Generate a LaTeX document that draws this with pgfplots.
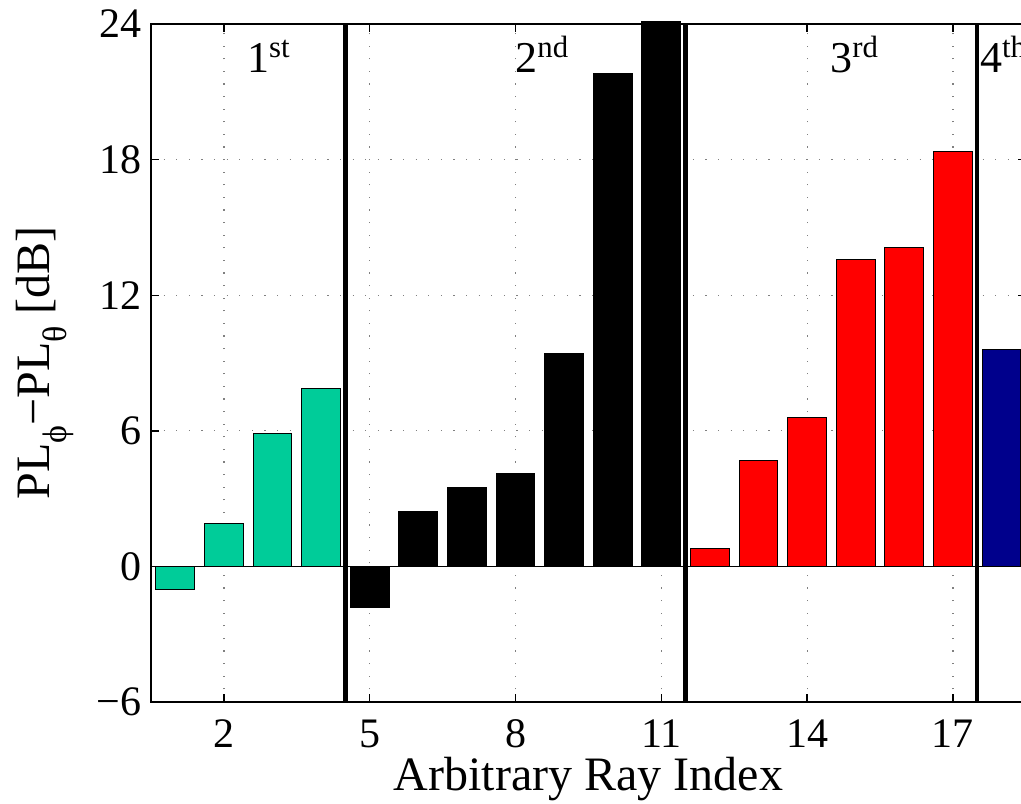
\documentclass[border=0pt]{standalone}
\usepackage{fontspec}
\setmainfont{Liberation Serif}
\usepackage{pgfplots}
\pgfplotsset{compat=1.18}
\definecolor{tealbar}{RGB}{0,204,153}
\definecolor{navybar}{RGB}{0,0,140}
\newcommand{\lowsub}[1]{\raisebox{-0.35em}{\fontsize{17}{20}\selectfont #1}}
\begin{document}
\begin{tikzpicture}
\begin{axis}[
  scale only axis, width=437.4pt, height=339pt,
  xmin=0.5, xmax=18.5, ymin=-6, ymax=24,
  xtick={2,5,8,11,14,17}, ytick={-6,0,6,12,18,24},
  xticklabels={2,5,8,11,14,17},
  yticklabels={−6,0,6,12,18,24},
  tick align=inside, major tick length=4pt,
  axis line style={line width=0.7pt},
  every tick/.style={black, line width=0.7pt},
  grid=major,
  major grid style={gray, line width=0.6pt, dash pattern=on 0.6pt off 5.7pt},
  clip=false,
  xticklabel style={font=\fontsize{21}{25}\selectfont, anchor=base, yshift=-22.5pt},
  yticklabel style={font=\fontsize{21}{25}\selectfont, anchor=east, inner sep=0pt, xshift=-4.5pt},
  xlabel={Arbitrary Ray Index},
  xlabel style={font=\fontsize{24}{28}\selectfont, at={(axis description cs:0.5,0)}, anchor=base, yshift=-44pt},
  ylabel={PL\lowsub{ϕ}−PL\lowsub{θ} [dB]},
  ylabel style={font=\fontsize{24}{28}\selectfont, at={(axis description cs:-0.121,0.5)}, anchor=center},
]
\addplot[ybar, bar width=0.8, bar shift=0pt, fill=tealbar, draw=black, line width=0.5pt]
  coordinates {(1,-1.02) (2,1.90) (3,5.88) (4,7.89)};
\addplot[ybar, bar width=0.8, bar shift=0pt, fill=black, draw=black, line width=0.5pt]
  coordinates {(5,-1.83) (6,2.42) (7,3.51) (8,4.11) (9,9.40) (10,21.81) (11,24.1)};
\addplot[ybar, bar width=0.8, bar shift=0pt, fill=red, draw=black, line width=0.5pt]
  coordinates {(12,0.80) (13,4.69) (14,6.59) (15,13.58) (16,14.12) (17,18.38)};
\addplot[ybar, bar width=0.8, bar shift=0pt, fill=navybar, draw=black, line width=0.5pt]
  coordinates {(18,9.60)};
\addplot[black, line width=0.7pt] coordinates {(0.5,0) (18.5,0)};
\addplot[black, line width=2.2pt] coordinates {(4.5,-6) (4.5,24)};
\addplot[black, line width=2.2pt] coordinates {(11.5,-6) (11.5,24)};
\addplot[black, line width=2.2pt] coordinates {(17.5,-6) (17.5,24)};
\node[anchor=base west, inner sep=0pt, font=\fontsize{22}{26}\selectfont] at (axis cs:2.47,21.85) {1\textsuperscript{st}};
\node[anchor=base west, inner sep=0pt, font=\fontsize{22}{26}\selectfont] at (axis cs:7.99,21.85) {2\textsuperscript{nd}};
\node[anchor=base west, inner sep=0pt, font=\fontsize{22}{26}\selectfont] at (axis cs:14.47,21.85) {3\textsuperscript{rd}};
\node[anchor=base west, inner sep=0pt, font=\fontsize{22}{26}\selectfont] at (axis cs:17.55,21.85) {4\textsuperscript{th}};
\end{axis}
\pgfresetboundingbox
\path[use as bounding box] ([xshift=-75.5pt,yshift=-50.5pt]current axis.south west) rectangle ([xshift=435pt,yshift=12pt]current axis.north west);
\end{tikzpicture}
\end{document}
